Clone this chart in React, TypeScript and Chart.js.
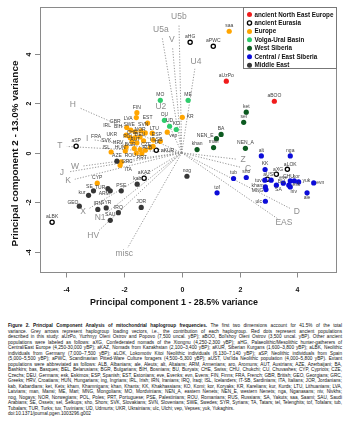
import React, { useEffect, useRef } from "react";
import { Chart, registerables } from "chart.js";

Chart.register(...registerables);

// [population, PC1, PC2, labelPC1?, labelPC2?]
type Pop = [string, number, number, number?, number?];

const groupNames = [
  "ancient North East Europe",
  "ancient Eurasia",
  "Europe",
  "Volga-Ural Basin",
  "West Siberia",
  "Central / East Siberia",
  "Middle East",
];

const ancientNorthEastEurope: Pop[] = [
  ["aUzPo", 1.54, 2.89],
  ["aBOO", 3.2, 2.08],
];

const ancientEurasia: Pop[] = [
  ["aHG", 0.29, 4.46],
  ["aPWC", 1.09, 4.3],
  ["aSP", -3.65, 0.26],
  ["aKUR", -0.88, 0.1, -0.49, 0.1],
  ["aKAZ", -1.3, -1.03],
  ["aLBK", -4.48, -2.81],
  ["aLOK", 3.65, -0.67, 3.75, -0.48],
  ["aXG", 3.27, -0.87, 3.33, -0.68],
  ["aUST", 2.96, -1.07, 3.04, -0.88],
];

const europe: Pop[] = [
  ["saa", 1.64, 4.91],
  ["KR", 0.02, 1.43, 0.29, 1.45],
  ["FIN", -1.55, 1.62],
  ["LVA", -1.57, 1.42, -1.85, 1.39],
  ["EST", -1.18, 1.2],
  ["GBR", -1.9, 1.02, -2.3, 1.27],
  ["IRL", -1.92, 0.71, -2.58, 1.11],
  ["BIH", -1.76, 0.91, -2.2, 1.07],
  ["SWE", -1.61, 0.84, -1.82, 1.15],
  ["SVN", -1.41, 0.88, -1.33, 1.15],
  ["NOR", -1.26, 0.8, -1.44, 0.95],
  ["LTU", -1.02, 0.79, -0.95, 0.99],
  ["CHE", -1.78, 0.61, -1.72, 0.83],
  ["DEU", -1.44, 0.64, -1.44, 0.75],
  ["ESP", -0.98, 0.51, -0.86, 0.75],
  ["UKR", -1.72, 0.44, -2.42, 0.75],
  ["FRA", -1.92, 0.23, -2.96, 0.64],
  ["POL", -1.61, 0.61, -1.85, 0.64],
  ["IT-SB", -0.74, 0.46, -0.88, 0.55],
  ["SVK", -1.95, 0.07, -2.61, 0.48],
  ["HRV", -1.55, 0.4, -2.2, 0.42],
  ["AUT", -1.32, 0.48, -1.61, 0.51],
  ["TA", -0.99, 0.26, -0.86, 0.4],
  ["CZE", -1.09, 0.21, -1.23, 0.34],
  ["ISL", -2.44, 0.03, -2.61, 0.19],
  ["HUN", -1.64, 0.17, -2.13, 0.19],
  ["BGR", -1.44, 0.13, -1.78, 0.33],
  ["ALB", -1.26, 0.1, -1.19, 0.22],
  ["ROU", -1.57, -0.01, -1.78, -0.1],
  ["PRT", -1.38, -0.03, -1.38, -0.18],
  ["GRC", -2.09, -0.37, -1.89, -0.34],
  ["ITA", -2.13, -0.51, -1.85, -0.67],
  ["CYP", -2.92, -1.23],
  ["vep", -0.5, 0.83, -0.29, 0.71],
];

const volgaUralBasin: Pop[] = [
  ["MO", -0.74, 2.12],
  ["ME", 0.22, 2.12],
  ["CU", -0.6, 1.31],
  ["UD", -0.42, 1.07],
  ["KO", -0.19, 0.94],
];

const westSiberia: Pop[] = [
  ["ket", 2.23, 1.64],
  ["sel", 2.14, 1.23],
  ["BA", 1.36, 0.74],
  ["NEN_E", 1.2, 0.57, 0.81, 0.71],
  ["man", 1.1, 0.21],
  ["khan", 0.53, 0.13],
  ["NEN_A", 2.2, 0.18],
];

const centralEastSiberia: Pop[] = [
  ["alt", 2.75, -0.13],
  ["nga", 3.75, -0.13],
  ["KK", 2.88, -0.68],
  ["tub", 1.79, -1.04],
  ["sho", 2.23, -1.0],
  ["tof", 1.22, -1.62],
  ["tuv", 2.87, -1.11, 2.65, -1.14],
  ["kham", 2.89, -1.38, 2.62, -1.31],
  ["MNG", 2.91, -1.49, 2.62, -1.52],
  ["BU", 3.09, -1.11, 3.44, -1.15],
  ["eve", 3.51, -1.23],
  ["SA", 3.27, -1.31, 3.34, -1.49],
  ["CHU", 3.75, -1.14, 3.69, -0.98],
  ["kor", 3.89, -1.14, 3.96, -0.98],
  ["yuk", 4.04, -1.18, 4.31, -1.11],
  ["evn", 4.56, -1.22, 4.79, -1.22],
  ["esk", 3.7, -1.31, 3.96, -1.28],
  ["niv", 3.75, -1.38, 3.87, -1.56],
  ["ale", 4.33, -1.62, 4.33, -1.81],
  ["ulc", 2.89, -1.96, 2.66, -1.96],
];

const middleEast: Pop[] = [
  ["AZE", -2.24, -0.34],
  ["nog", 0.18, -0.95],
  ["SE", -3.05, -1.54, -3.19, -1.38],
  ["TUR", -2.55, -1.45, -2.82, -1.42],
  ["ARM", -2.47, -1.54, -2.68, -1.65],
  ["kur", -3.22, -1.72, -3.45, -1.61],
  ["PSE", -2.09, -1.54],
  ["kab", -1.54, -1.27],
  ["GEO", -3.54, -2.16, -3.76, -2.0],
  ["IRN", -2.9, -2.29],
  ["SYR", -2.61, -2.23],
  ["IRQ", -2.19, -2.42],
  ["JOR", -1.4, -2.21],
  ["SAU", -2.47, -2.73],
];

const haplogroups = ["U5b", "U5a", "V", "U4", "U2", "H", "T", "I", "W", "J", "K", "X", "N1", "HV", "misc", "Z", "C", "D", "EAS"];
const loadingX = [-0.1, -0.72, -0.34, 0.49, -0.72, -3.76, -4.21, -3.27, -3.69, -4.14, -3.93, -3.41, -2.82, -3.06, -1.99, 2.12, 2.29, 3.98, 3.53];
const loadingY = [5.48, 4.96, 4.56, 3.67, 1.85, 1.93, 0.27, 0.56, -0.58, -0.82, -1.14, -2.4, -2.64, -3.36, -4.09, -0.29, -0.66, -2.39, -2.84];

const xTicks = [-4, -2, 0, 2, 4];
const yTicks = [-4, -2, 0, 2, 4];
const xTitle = "Principal component 1 - 28.5% variance";
const yTitle = "Principal component 2 - 13.0% variance";

const captionTitle = "Figure 2. Principal Component Analysis of mitochondrial haplogroup frequencies.";
const captionLines = [
  " The first two dimensions account for 41.5% of the total",
  "variance. Grey arrows represent haplogroup loading vectors, i.e., the contribution of each haplogroup. Red dots represent ancient populations",
  "described in this study: aUzPo, Yuzhnyy Oleni Ostrov and Popovo (7,500 uncal. yBP); aBOO, Bol'shoy Oleni Ostrov (3,500 uncal. yBP). Other ancient",
  "populations were labeled as follows: aXG, Confederated nomads of the Xiongnu (4,250-2,300 yBP); aHG, Palaeolithic/Mesolithic hunter-gatherers of",
  "Central/East Europe (4,250-30,000 yBP); aKAZ, Nomads from Kazakhstan (2,100–3,400 yBP); aKUR, Siberian Kurgans (1,600–3,800 yBP); aLBK, Neolithic",
  "individuals from Germany (7,000–7,500 yBP); aLOK, Lokomotiv Kitoi Neolithic individuals (6,130–7,140 yBP); aSP, Neolithic individuals from Spain",
  "(5,000–5,500 yBP); aPWC, Scandinavian Pitted-Ware Culture foragers (4,500–5,300 yBP); aUST, Ust'Ida Neolithic population (4,000–5,800 yBP). Extant",
  "populations were abbreviated as follows: ALB, Albanians; ale, Aleuts; alt, Altaians; ARM, Armenians; aro, Aromuns; AUT, Austrians; AZE, Azerbaijani; BA,",
  "Bashkirs; bas, Basques; BEL, Belarusians; BGR, Bulgarians; BIH, Bosnians; BU, Buryats; CHE, Swiss; CHU, Chukchi; CU, Chuvashes; CYP, Cypriots; CZE,",
  "Czechs; DEU, Germans; esk, Eskimos; ESP, Spanish; EST, Estonians; eve, Evenks; evn, Evens; FIN, Finns; FRA, French; GBR, British; GEO, Georgians; GRC,",
  "Greeks; HRV, Croatians; HUN, Hungarians; ing, Ingrians; IRL, Irish; IRN, Iranians; IRQ, Iraqi; ISL, Icelanders; IT-SB, Sardinians; ITA, Italians; JOR, Jordanians;",
  "kab, Kabardians; ket, Kets; kham, Khamnigans; khan, Khants; KK, Khakhassians; KO, Komi; kor, Koryaks; KR, Karelians; kur, Kurds; LTU, Lithuanians; LVA,",
  "Latvians; man, Mansi; ME, Mari; MNG, Mongolians; MO, Mordvinians; NEN_A, eastern Nenets; NEN_E, western Nenets; nga, Nganasans; niv, Nivkhs;",
  "nog, Nogays; NOR, Norwegians; POL, Poles; PRT, Portuguese; PSE, Palestinians; ROU, Romanians; RUS, Russians; SA, Yakuts; saa, Saami; SAU, Saudi",
  "Arabians; SE, Ossets; sel, Selkups; sho, Shors; SVK, Slovakians; SVN, Slovenians; SWE, Swedes; SYR, Syrians; TA, Tatars; tel, Telenghits; tof, Tofalars; tub,",
  "Tubalars; TUR, Turks; tuv, Tuvinians; UD, Udmurts; UKR, Ukrainians; ulc, Ulchi; vep, Vepses; yuk, Yukaghirs.",
  "doi:10.1371/journal.pgen.1003296.g002",
];

const groups = [ancientNorthEastEurope, ancientEurasia, europe, volgaUralBasin, westSiberia, centralEastSiberia, middleEast];
const groupFill = ["#f01c1c", "#ffffff", "#ffa500", "#2ecc6b", "#0c5a20", "#0c0cd8", "#363636"];

const FONT = '"Liberation Sans", Arial, Helvetica, sans-serif';
const CANVAS_H = 312;
const CAPTION_TOP = 323;
const CAPTION_LH = 5.5;
const CAPTION_W = 334;

function fitFont(ctx: CanvasRenderingContext2D, text: string, width: number, weight: string) {
  ctx.font = `${weight} 10px ${FONT}`;
  const w = ctx.measureText(text).width;
  const size = (10 * width) / w;
  return `${weight} ${size}px ${FONT}`;
}

const biplotPlugin = {
  id: "biplot",
  beforeDatasetsDraw(chart: any) {
    const ctx: CanvasRenderingContext2D = chart.ctx;
    const xs = chart.scales.x;
    const ys = chart.scales.y;
    const ox = xs.getPixelForValue(0);
    const oy = ys.getPixelForValue(0);
    ctx.save();
    ctx.strokeStyle = "#8c8c8c";
    ctx.lineWidth = 0.9;
    ctx.setLineDash([1.2, 1.6]);
    haplogroups.forEach((h, i) => {
      const lx = xs.getPixelForValue(loadingX[i]);
      const ly = ys.getPixelForValue(loadingY[i]);
      const dx = lx - ox;
      const dy = ly - oy;
      const len = Math.hypot(dx, dy);
      const f = (len - 7) / len;
      ctx.beginPath();
      ctx.moveTo(ox, oy);
      ctx.lineTo(ox + dx * f, oy + dy * f);
      ctx.stroke();
    });
    ctx.restore();
  },
  afterDatasetsDraw(chart: any) {
    const ctx: CanvasRenderingContext2D = chart.ctx;
    const xs = chart.scales.x;
    const ys = chart.scales.y;
    const area = chart.chartArea;
    ctx.save();
    ctx.textAlign = "center";
    ctx.textBaseline = "middle";

    // haplogroup loading labels
    ctx.fillStyle = "#8e8e8e";
    ctx.font = `8.5px ${FONT}`;
    haplogroups.forEach((h, i) => {
      ctx.fillText(h, xs.getPixelForValue(loadingX[i]), ys.getPixelForValue(loadingY[i]));
    });

    // population labels
    ctx.fillStyle = "#404040";
    ctx.font = `5px ${FONT}`;
    groups.forEach((g) =>
      g.forEach((p) => {
        const has = p[3] !== undefined;
        const x = xs.getPixelForValue(has ? (p[3] as number) : p[1]);
        const y = has ? ys.getPixelForValue(p[4] as number) : ys.getPixelForValue(p[2]) - 5.5;
        ctx.fillText(p[0], x, y);
      })
    );

    // box
    ctx.strokeStyle = "#8a8a8a";
    ctx.lineWidth = 1;
    ctx.strokeRect(area.left + 0.5, area.top + 0.5, area.right - area.left - 1, area.bottom - area.top - 1);

    // x axis ticks
    ctx.fillStyle = "#111";
    ctx.font = `bold 7px ${FONT}`;
    xTicks.forEach((v) => {
      const px = Math.round(xs.getPixelForValue(v)) + 0.5;
      ctx.beginPath();
      ctx.moveTo(px, area.bottom);
      ctx.lineTo(px, area.bottom + 4.5);
      ctx.stroke();
      ctx.fillText(String(v), px, 290.5);
    });
    // y axis ticks (rotated labels)
    yTicks.forEach((v) => {
      const py = Math.round(ys.getPixelForValue(v)) + 0.5;
      ctx.beginPath();
      ctx.moveTo(area.left, py);
      ctx.lineTo(area.left - 5, py);
      ctx.stroke();
      ctx.save();
      ctx.translate(29, py);
      ctx.rotate(-Math.PI / 2);
      ctx.fillText(String(v), 0, 0);
      ctx.restore();
    });

    // axis titles
    ctx.font = fitFont(ctx, xTitle, 168, "bold");
    ctx.fillText(xTitle, 174, 303);
    ctx.save();
    ctx.translate(15, 153.5);
    ctx.rotate(-Math.PI / 2);
    ctx.font = fitFont(ctx, yTitle, 186, "bold");
    ctx.fillText(yTitle, 0, 0);
    ctx.restore();

    // legend
    const lx0 = 243;
    const ly0 = area.top;
    ctx.fillStyle = "#ffffff";
    ctx.fillRect(lx0 + 0.5, ly0 + 0.5, area.right - lx0 - 1, 61);
    ctx.strokeStyle = "#777";
    ctx.strokeRect(lx0 + 0.5, ly0 + 0.5, area.right - lx0 - 1, 61);
    const legendFont = fitFont(ctx, groupNames[0], 79, "bold");
    groupNames.forEach((name, i) => {
      const y = ly0 + 7.5 + i * 8.45;
      ctx.beginPath();
      ctx.arc(249.5, y, i === 1 ? 2.1 : 2.5, 0, Math.PI * 2);
      if (i === 1) {
        ctx.fillStyle = "#fff";
        ctx.fill();
        ctx.lineWidth = 1.3;
        ctx.strokeStyle = "#000";
        ctx.stroke();
      } else {
        ctx.fillStyle = groupFill[i];
        ctx.fill();
      }
      ctx.fillStyle = "#111";
      ctx.font = legendFont;
      ctx.textAlign = "left";
      ctx.fillText(name, 254.5, y + 0.3);
    });
    ctx.restore();
  },
};

export default function App() {
  const canvasRef = useRef<HTMLCanvasElement | null>(null);
  const lineRefs = useRef<(HTMLSpanElement | null)[]>([]);

  useEffect(() => {
    const canvas = canvasRef.current;
    if (!canvas) return;
    const chart = new Chart(canvas, {
      type: "scatter",
      data: {
        datasets: groups.map((g, i) => ({
          label: groupNames[i],
          data: g.map((p) => ({ x: p[1], y: p[2] })),
          pointRadius: i === 1 ? 2.1 : 2.6,
          pointBackgroundColor: groupFill[i],
          pointBorderColor: i === 1 ? "#000000" : groupFill[i],
          pointBorderWidth: i === 1 ? 1.3 : 0,
          showLine: false,
          order: groups.length - i,
        })),
      },
      options: {
        animation: false,
        responsive: false,
        devicePixelRatio: 1,
        events: [],
        layout: { padding: { left: 40, right: 13, top: 7, bottom: CANVAS_H - 273 } },
        scales: {
          x: { type: "linear", min: -4.898, max: 5.365, display: false },
          y: { type: "linear", min: -4.859, max: 5.889, display: false },
        },
        plugins: { legend: { display: false }, tooltip: { enabled: false } },
      },
      plugins: [biplotPlugin],
    } as any);
    return () => chart.destroy();
  }, []);

  useEffect(() => {
    const n = captionLines.length;
    lineRefs.current.forEach((el, i) => {
      if (!el) return;
      el.style.transform = "";
      el.style.wordSpacing = "0px";
      const natural = el.getBoundingClientRect().width;
      const justify = i < n - 2;
      if (natural > CAPTION_W) {
        el.style.transform = `scaleX(${CAPTION_W / natural})`;
      } else if (justify) {
        const spaces = ((el.textContent || "").match(/ /g) || []).length;
        if (spaces > 0) el.style.wordSpacing = `${(CAPTION_W - natural) / spaces}px`;
      }
    });
  }, []);

  return (
    <div style={{ position: "fixed", left: 0, top: 0, width: 350, height: 422, background: "#fff", overflow: "hidden" }}>
      <canvas ref={canvasRef} width={350} height={CANVAS_H} style={{ display: "block", width: 350, height: CANVAS_H }} />
      <div
        style={{
          position: "absolute",
          left: 8,
          top: CAPTION_TOP,
          width: CAPTION_W,
          fontFamily: FONT,
          fontSize: 4.7,
          lineHeight: `${CAPTION_LH}px`,
          color: "#111",
        }}
      >
        {captionLines.map((ln, i) => (
          <div key={i} style={{ height: CAPTION_LH, whiteSpace: "nowrap" }}>
            <span
              ref={(el) => {
                lineRefs.current[i] = el;
              }}
              style={{ display: "inline-block", whiteSpace: "pre", transformOrigin: "0 50%" }}
            >
              {i === 0 ? <b>{captionTitle}</b> : null}
              {ln}
            </span>
          </div>
        ))}
      </div>
    </div>
  );
}
